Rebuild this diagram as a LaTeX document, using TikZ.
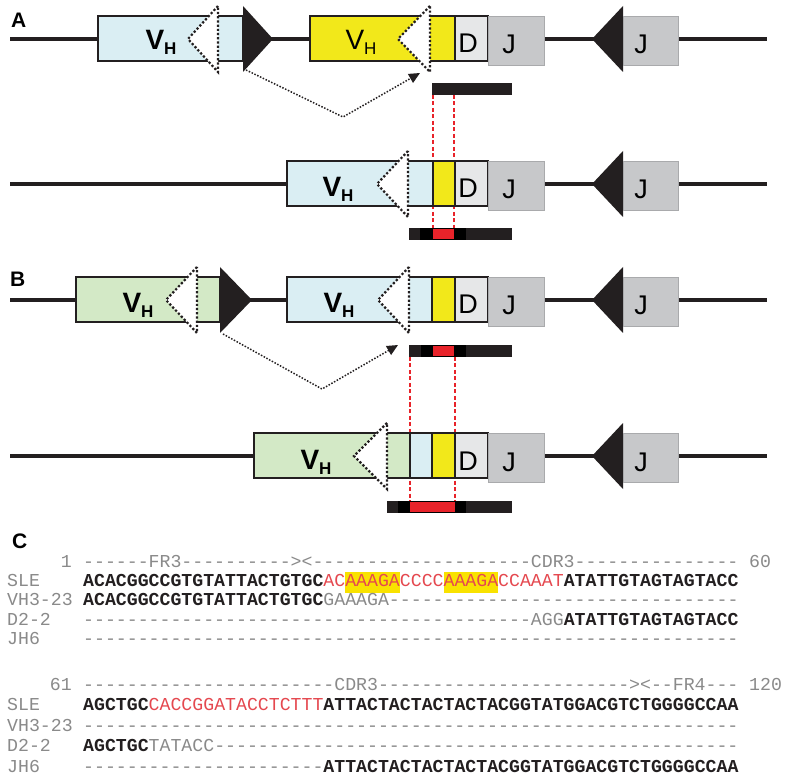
\documentclass[tikz,border=0pt]{standalone}
\usepackage{fontspec}
\setmainfont{Liberation Sans}
\newfontfamily\seqfont{Liberation Mono}[Ligatures=TeXOff]
\usetikzlibrary{arrows.meta}

\definecolor{vblue}{HTML}{DAEEF3}
\definecolor{vyellow}{HTML}{F2E81A}
\definecolor{vgreen}{HTML}{D3E9C6}
\definecolor{dgrey}{HTML}{E6E7E8}
\definecolor{jgrey}{HTML}{C7C8CA}
\definecolor{ink}{HTML}{231F20}
\definecolor{cutred}{HTML}{E8232A}
\definecolor{seqred}{HTML}{E5484F}
\definecolor{seqgrey}{HTML}{8A8A8A}
\definecolor{hilite}{HTML}{F9E200}

\newcommand\dd[1]{\foreach\k in {1,...,#1}{-}}
\newcommand\bs[1]{\textbf{\color{ink}#1}}
\newcommand\rd[1]{{\color{seqred}#1}}
\newcommand\hsub{\raisebox{-5pt}{\fontsize{17}{17}\selectfont H}}

\begin{document}
\begin{tikzpicture}[x=1pt,y=-1pt]
	\tikzstyle{dna}=[line width=4.5pt, ink]
	\tikzstyle{part}=[draw=ink, line width=1.1pt]
	\tikzstyle{notch}=[draw=ink, line width=2.2pt, dash pattern=on 2.2pt off 2pt]
	\tikzstyle{cut}=[draw=cutred, line width=1.3pt, dash pattern=on 4pt off 2.5pt]
	\tikzstyle{rejoin}=[ink, line width=1.5pt, dash pattern=on 1.5pt off 1.6pt, -{Triangle[length=11pt,width=10pt]}]
	\tikzstyle{vlab}=[font=\fontsize{28}{28}\selectfont, anchor=base, inner sep=0pt]
	\tikzstyle{seglab}=[font=\fontsize{27}{27}\selectfont, anchor=base, inner sep=0pt]
	\tikzstyle{panel}=[font=\fontsize{21}{21}\selectfont\bfseries, anchor=base west, inner sep=0pt]
	\tikzstyle{seq}=[font=\seqfont\fontsize{18.2}{18.2}\selectfont, text=seqgrey, anchor=base west, inner sep=0pt]
	\tikzstyle{num}=[font=\seqfont\fontsize{18.2}{18.2}\selectfont, text=seqgrey, inner sep=0pt]

	\useasboundingbox[fill=white] (0,0) rectangle (787,783);

	\foreach \y in {39,184,300,456}
		\draw[dna] (10,\y) -- (767,\y);

	\draw[cut] (433,95) -- (433,228);
	\draw[cut] (454,95) -- (454,228);
	\draw[cut] (410,357) -- (410,501);
	\draw[cut] (455,357) -- (455,501);

	\draw[part, fill=vblue] (98,16) rectangle (243,61);
	\draw[part, fill=vyellow] (310,16) rectangle (455,61);
	\draw[part, fill=vblue] (287,161) rectangle (433,206);
	\draw[part, fill=vyellow] (433,161) rectangle (455,206);
	\draw[part, fill=vgreen] (76,277) rectangle (220,322);
	\draw[part, fill=vblue] (287,277) rectangle (432,322);
	\draw[part, fill=vyellow] (432,277) rectangle (455,322);
	\draw[part, fill=vgreen] (254,433) rectangle (410,478);
	\draw[part, fill=vblue] (410,433) rectangle (432,478);
	\draw[part, fill=vyellow] (432,433) rectangle (455,478);

	\foreach \y in {39,184,300,456} {
		\draw[part, fill=dgrey] (455,\y-23) rectangle (488,\y+22);
		\filldraw[fill=jgrey, draw=jgrey!85!black, line width=0.5pt] (488,\y-23) rectangle (544,\y+26);
		\fill[ink] (623,\y-33) -- (592,\y) -- (623,\y+33) -- cycle;
		\filldraw[fill=jgrey, draw=jgrey!85!black, line width=0.5pt] (623,\y-23) rectangle (678,\y+26);
		\node[seglab] (d\y) at (468,\y+14) {D};
		\node[seglab] (j\y) at (509,\y+15) {J};
		\node[seglab] (jj\y) at (641,\y+15) {J};
	}

	\fill[ink] (243,6) -- (273,39) -- (243,72) -- cycle;
	\fill[ink] (220,267) -- (252,300) -- (220,333) -- cycle;

	\foreach \a/\v/\y in {188/218/39, 398/430/39, 377/408/184, 166/197/300, 378/409/300, 354/387/456} {
		\fill[white] (\v,\y-33) -- (\a,\y) -- (\v,\y+33) -- cycle;
		\draw[notch] (\v,\y-33) -- (\a,\y) -- (\v,\y+33) -- cycle;
	}

	\node[vlab] (vhA) at (161,50) {\bfseries V\hsub};
	\node[vlab] (vhAy) at (361,50) {V\hsub};
	\node[vlab] (vhAA) at (338,197) {\bfseries V\hsub};
	\node[vlab] (vhB) at (138,313) {\bfseries V\hsub};
	\node[vlab] (vhBb) at (339,313) {\bfseries V\hsub};
	\node[vlab] (vhBB) at (316,469) {\bfseries V\hsub};

	\coordinate (rssA) at (246,70);
	\coordinate (loopA) at (343,117);
	\coordinate (tgtA) at (420,73);
	\coordinate (rssB) at (223,334);
	\coordinate (loopB) at (322,389);
	\coordinate (tgtB) at (398,345);
	\draw[rejoin] (rssA) -- (loopA) -- (tgtA);
	\draw[rejoin] (rssB) -- (loopB) -- (tgtB);

	\fill[ink] (432,83) rectangle (512,95);
	\fill[ink] (409,228) rectangle (512,240);
	\fill[black] (420,228) rectangle (466,240);
	\fill[cutred] (433,229) rectangle (454,239);
	\fill[ink] (409,345) rectangle (512,357);
	\fill[black] (421,345) rectangle (466,357);
	\fill[cutred] (433,346) rectangle (454,356);
	\fill[ink] (387,501) rectangle (512,513);
	\fill[black] (398,501) rectangle (466,513);
	\fill[cutred] (410,502) rectangle (455,512);

	\node[panel] (labA) at (11,28) {A};
	\node[panel] (labB) at (10,287) {B};
	\node[panel] (labC) at (12,548) {C};

	\fill[hilite] (345,572) rectangle (399.5,592.5);
	\fill[hilite] (443.5,572) rectangle (498,592.5);

	\node[num, anchor=base east] (n1) at (72,567) {1};
	\node[seq] (hdr1) at (83,567) {\dd{6}FR3\dd{10}><\dd{20}CDR3\dd{15}};
	\node[num, anchor=base west] (n60) at (749,567) {60};
	\node[seq] (lsle1) at (7,586.5) {SLE};
	\node[seq] (sle1) at (83,586.5) {\bs{ACACGGCCGTGTATTACTGTGC}\rd{ACAAAGACCCCAAAGACCAAAT}\bs{ATATTGTAGTAGTACC}};
	\node[seq] (lvh1) at (7,605.5) {VH3-23};
	\node[seq] (vh1) at (83,605.5) {\bs{ACACGGCCGTGTATTACTGTGC}GAAAGA\dd{32}};
	\node[seq] (ld1) at (7,625) {D2-2};
	\node[seq] (dd1) at (83,625) {\dd{41}AGG\bs{ATATTGTAGTAGTACC}};
	\node[seq] (ljh1) at (7,644) {JH6};
	\node[seq] (jh1) at (83,644) {\dd{60}};

	\node[num, anchor=base east] (n61) at (72,690) {61};
	\node[seq] (hdr2) at (83,690) {\dd{23}CDR3\dd{23}><\dd{2}FR4\dd{3}};
	\node[num, anchor=base west] (n120) at (749,690) {120};
	\node[seq] (lsle2) at (7,710) {SLE};
	\node[seq] (sle2) at (83,710) {\bs{AGCTGC}\rd{CACCGGATACCTCTTT}\bs{ATTACTACTACTACTACGGTATGGACGTCTGGGGCCAA}};
	\node[seq] (lvh2) at (7,731) {VH3-23};
	\node[seq] (vh2) at (83,731) {\dd{60}};
	\node[seq] (ld2) at (7,751.5) {D2-2};
	\node[seq] (dd2) at (83,751.5) {\bs{AGCTGC}TATACC\dd{48}};
	\node[seq] (ljh2) at (7,772) {JH6};
	\node[seq] (jh2) at (83,772) {\dd{22}\bs{ATTACTACTACTACTACGGTATGGACGTCTGGGGCCAA}};
\end{tikzpicture}
\end{document}
